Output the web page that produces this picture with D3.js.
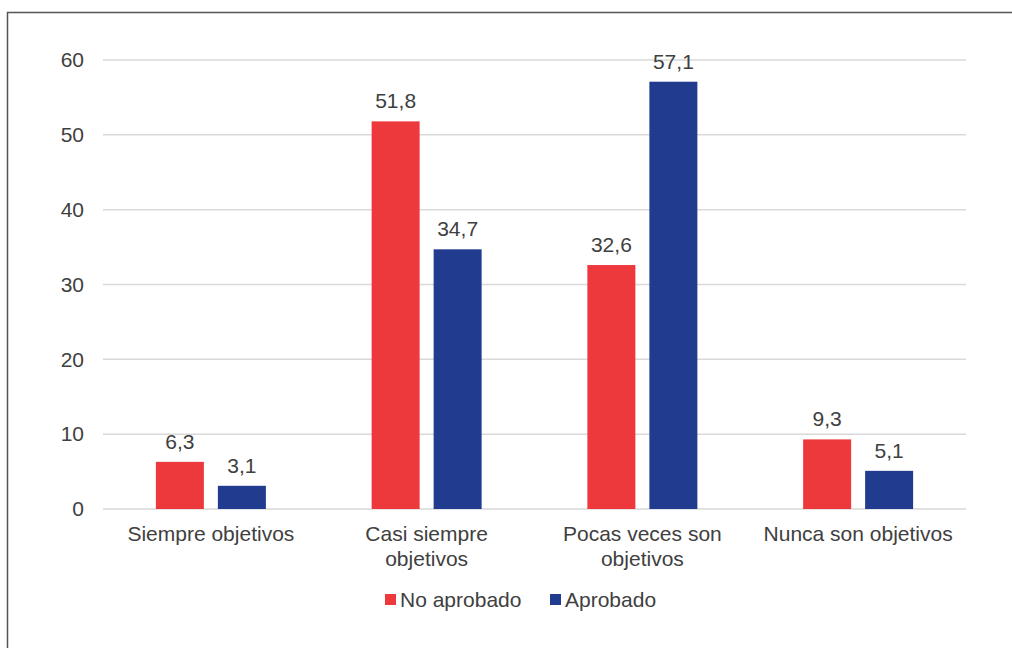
<!DOCTYPE html>
<html>
<head>
<meta charset="utf-8">
<script src="https://cdn.jsdelivr.net/npm/d3@7"></script>
<style>
  body { margin: 0; background: #fff; }
  svg { display: block; font-family: "Liberation Sans", Arial, sans-serif; }
</style>
</head>
<body>
<div id="chart"></div>
<script>
let categories = [["Siempre objetivos"], ["Casi siempre", "objetivos"], ["Pocas veces son", "objetivos"], ["Nunca son objetivos"]];
let seriesNames = ["No aprobado", "Aprobado"];
let noAprobado = [6.3, 51.8, 32.6, 9.3];
let aprobado = [3.1, 34.7, 57.1, 5.1];
let yTicks = [0, 10, 20, 30, 40, 50, 60];
let colors = ["#ee393c", "#213b8f"];

let width = 1012, height = 648;
let fs = 21;
let svg = d3.select("#chart").append("svg").attr("width", width).attr("height", height);

// frame
svg.append("path")
  .attr("d", "M7.5," + height + "V12.5H" + width)
  .attr("fill", "none")
  .attr("stroke", "#555")
  .attr("stroke-width", 1.5);

let x0 = d3.scaleBand().domain(d3.range(categories.length)).range([103, 966]);
let y = d3.scaleLinear().domain([0, 60]).range([509, 60]);
let x1 = d3.scaleBand().domain([0, 1]).range([0, 110]).paddingInner(14 / 62);

// grid
svg.append("g").selectAll("line").data(yTicks).join("line")
  .attr("x1", 103).attr("x2", 966)
  .attr("y1", d => y(d)).attr("y2", d => y(d))
  .attr("stroke", "#d9d9d9").attr("stroke-width", 1.5);

let yAxis = svg.append("g").attr("transform", "translate(84,0)")
  .call(d3.axisLeft(y).tickValues(yTicks).tickSize(0).tickPadding(0));
yAxis.select(".domain").remove();
yAxis.selectAll("text").attr("font-size", fs).attr("fill", "#404040")
  .attr("font-family", "Liberation Sans, Arial, sans-serif");

let data = categories.map((c, i) => [noAprobado[i], aprobado[i]]);

let groups = svg.append("g").selectAll("g").data(data).join("g")
  .attr("transform", (d, i) => "translate(" + (x0(i) + x0.bandwidth() / 2 - 55) + ",0)");

groups.selectAll("rect").data(d => d).join("rect")
  .attr("x", (d, j) => x1(j))
  .attr("width", x1.bandwidth())
  .attr("y", d => y(d))
  .attr("height", d => y(0) - y(d))
  .attr("fill", (d, j) => colors[j]);

groups.selectAll("text").data(d => d).join("text")
  .attr("x", (d, j) => x1(j) + x1.bandwidth() / 2)
  .attr("y", d => y(d) - 13)
  .attr("text-anchor", "middle")
  .attr("font-size", fs)
  .attr("fill", "#404040")
  .text(d => d.toFixed(1).replace(".", ","));

// category labels
let catG = svg.append("g").selectAll("text").data(categories).join("text")
  .attr("x", (d, i) => x0(i) + x0.bandwidth() / 2)
  .attr("y", 541)
  .attr("text-anchor", "middle")
  .attr("font-size", fs)
  .attr("fill", "#404040");
catG.selectAll("tspan").data(d => d).join("tspan")
  .attr("x", function () { return this.parentNode.getAttribute("x"); })
  .attr("dy", (d, k) => k === 0 ? 0 : 25)
  .text(d => d);

// legend
let legendX = [385, 550];
let legend = svg.append("g").selectAll("g").data(seriesNames).join("g")
  .attr("transform", (d, i) => "translate(" + legendX[i] + ",594)");
legend.append("rect").attr("width", 11).attr("height", 11).attr("fill", (d, i) => colors[i]);
legend.append("text").attr("x", 15).attr("y", 13)
  .attr("font-size", fs).attr("fill", "#404040").text(d => d);
</script>
</body>
</html>
